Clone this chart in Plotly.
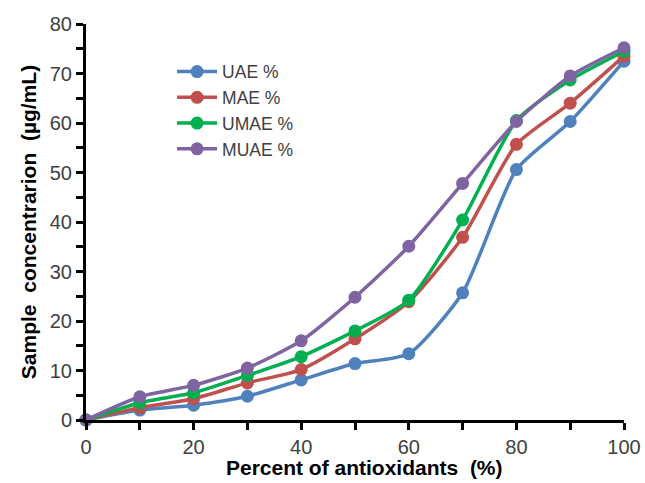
import plotly.graph_objects as go

x_vals = [0, 10, 20, 30, 40, 50, 60, 70, 80, 90, 100]
uae = [0, 2.0, 3.0, 4.8, 8.1, 11.4, 13.4, 25.7, 50.6, 60.3, 72.5]
mae = [0, 2.5, 4.3, 7.5, 10.2, 16.4, 23.9, 36.9, 55.7, 64.0, 73.5]
umae = [0, 3.5, 5.5, 9.0, 12.8, 18.0, 24.2, 40.4, 60.5, 68.7, 74.5]
muae = [0, 4.7, 7.0, 10.5, 16.0, 24.8, 35.1, 47.8, 60.3, 69.5, 75.2]
names = ["UAE %", "MAE %", "UMAE %", "MUAE %"]
colors = ["#4F81BD", "#C0504D", "#00B050", "#8064A2"]

fig = go.Figure()
for name, ys, c in zip(names, [uae, mae, umae, muae], colors):
    fig.add_trace(go.Scatter(
        x=x_vals, y=ys, name=name, mode="lines+markers",
        line=dict(color=c, width=3.5, shape="spline", smoothing=0.6),
        marker=dict(color=c, size=13),
        cliponaxis=False,
    ))

axis_common = dict(
    showline=True, linecolor="black", linewidth=3,
    ticks="outside", ticklen=7, tickwidth=3, tickcolor="black",
    showgrid=False, zeroline=False, automargin=False,
    tickfont=dict(family="Liberation Sans, Arial", size=20, color="#404040"),
)
fig.update_xaxes(
    range=[0, 100], dtick=20, tick0=0,
    minor=dict(dtick=10, ticks="outside", ticklen=7, tickwidth=3, tickcolor="black"),
    **axis_common,
)
fig.update_yaxes(
    range=[0, 80], dtick=10, tick0=0,
    minor=dict(dtick=5, ticks="outside", ticklen=7, tickwidth=3, tickcolor="black"),
    title=dict(text="<b>Sample  concentrarion  (µg/mL)</b>", standoff=8,
               font=dict(family="Liberation Sans, Arial", size=21, color="black")),
    **axis_common,
)
fig.add_annotation(
    text="<b>Percent of antioxidants  (%)</b>", xref="paper", yref="paper",
    x=0.517, y=-0.121, xanchor="center", yanchor="middle", showarrow=False,
    font=dict(family="Liberation Sans, Arial", size=21, color="black"),
)
fig.update_layout(
    width=645, height=483,
    margin=dict(l=86, r=21, t=24, b=63),
    plot_bgcolor="white", paper_bgcolor="white",
    legend=dict(x=0.16, y=0.925, xanchor="left", yanchor="top",
                bgcolor="rgba(0,0,0,0)", tracegroupgap=0,
                font=dict(family="Liberation Sans, Arial", size=17.5, color="#404040"),
                itemwidth=40),
)
fig.write_html(
    "out.html",
    config={"displayModeBar": False},
    post_script="document.body.style.margin='0';document.body.style.overflow='hidden';",
)
